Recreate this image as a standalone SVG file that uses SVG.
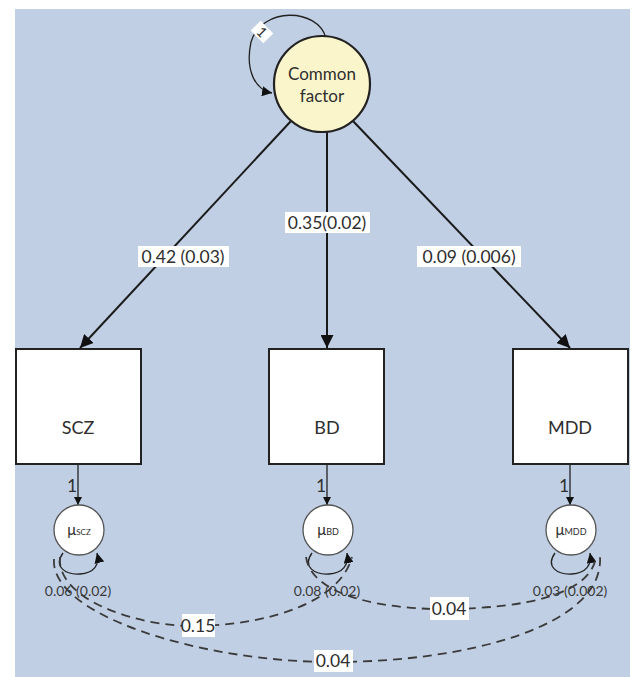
<svg xmlns="http://www.w3.org/2000/svg" width="633" height="677" viewBox="0 0 633 677">
<style>
text{font-family:Lato,"Liberation Sans",sans-serif;fill:#2e2e2e;text-anchor:middle}
.node{fill:#fff;stroke:#222;stroke-width:2}
.load{stroke:#1a1a1a;stroke-width:2;fill:none}
.thin{stroke:#222;stroke-width:1.3;fill:none}
.dash{stroke:#3a3a3a;stroke-width:1.8;fill:none;stroke-dasharray:9 6}
.lbl{font-size:17.5px}
.bg{fill:#fff}
.small{font-size:14px;fill:#3a3a3a}
</style>
<defs>
<marker id="ah" viewBox="0 0 10 10" refX="10" refY="5" markerWidth="8" markerHeight="8" orient="auto" markerUnits="userSpaceOnUse">
<path d="M0,0 L10,5 L0,10 z" fill="#111"/>
</marker>
<marker id="ahs" viewBox="0 0 10 10" refX="10" refY="5" markerWidth="10" markerHeight="10" orient="auto" markerUnits="userSpaceOnUse">
<path d="M0,0 L10,5 L0,10 z" fill="#111"/>
</marker>
<marker id="ahb" viewBox="0 0 10 10" refX="10" refY="5" markerWidth="13" markerHeight="13" orient="auto" markerUnits="userSpaceOnUse">
<path d="M0,0 L10,5 L0,10 z" fill="#111"/>
</marker>
</defs>
<rect x="0" y="0" width="633" height="677" fill="#fff"/>
<rect x="15" y="9" width="615" height="668" fill="#c0cfe4"/>

<g id="connectors">
  <!-- factor self loop -->
  <path class="thin" d="M326 38 C318 8 262 6 251 42 C245 70 255 90 272 93" marker-end="url(#ahs)"/>
  <g transform="translate(262,32) rotate(45)">
    <rect class="bg" x="-9" y="-7" width="18" height="14"/>
    <text x="0" y="5" style="font-size:14px">1</text>
  </g>
  <!-- loadings -->
  <line class="load" x1="291" y1="121" x2="80" y2="348" marker-end="url(#ahb)"/>
  <line class="load" x1="327" y1="131" x2="327" y2="348" marker-end="url(#ahb)"/>
  <line class="load" x1="352" y1="120" x2="570" y2="348" marker-end="url(#ahb)"/>
  <rect class="bg" x="138" y="246" width="91" height="21"/>
  <text class="lbl" x="183" y="263">0.42 (0.03)</text>
  <rect class="bg" x="285" y="212" width="85" height="21"/>
  <text class="lbl" x="327" y="229">0.35(0.02)</text>
  <rect class="bg" x="417" y="246" width="104" height="21"/>
  <text class="lbl" x="469" y="263">0.09 (0.006)</text>
  <!-- box to mu -->
  <line class="thin" x1="78" y1="464" x2="78" y2="505" marker-end="url(#ah)"/>
  <line class="thin" x1="327" y1="464" x2="327" y2="505" marker-end="url(#ah)"/>
  <line class="thin" x1="570" y1="464" x2="570" y2="505" marker-end="url(#ah)"/>
  <text class="lbl" x="72" y="492">1</text>
  <text class="lbl" x="321" y="492">1</text>
  <text class="lbl" x="564" y="492">1</text>
  <!-- mu self loops -->
  <path class="thin" d="M63 553 C53 567 66 575 80 574 C94 573 100 565 97 553" marker-end="url(#ahs)"/>
  <path class="thin" d="M312 553 C302 567 315 575 329 574 C343 573 349 565 347 553" marker-end="url(#ahs)"/>
  <path class="thin" d="M555 553 C545 567 558 575 572 574 C586 573 592 565 590 553" marker-end="url(#ahs)"/>
  <text class="small" x="78" y="596">0.06 (0.02)</text>
  <text class="small" x="327" y="596">0.08 (0.02)</text>
  <text class="small" x="570" y="596">0.03 (0.002)</text>
  <!-- covariances -->
  <path class="dash" d="M60 557 C56 600 140 628 200 626 C270 624 340 602 352 557"/>
  <path class="dash" d="M306 557 C312 598 390 610 450 609 C520 608 590 596 596 557"/>
  <path class="dash" d="M54 559 C50 615 200 662 333 662 C470 662 604 625 600 557"/>
  <rect class="bg" x="182" y="614" width="33" height="23"/>
  <text class="lbl" x="198" y="632">0.15</text>
  <rect class="bg" x="430" y="597" width="39" height="23"/>
  <text class="lbl" x="449" y="615">0.04</text>
  <rect class="bg" x="314" y="650" width="39" height="22"/>
  <text class="lbl" x="333" y="667">0.04</text>
</g>

<g id="common-factor">
  <circle cx="322" cy="84" r="48" fill="#fbf5cc" stroke="#222" stroke-width="2.2"/>
  <text x="322" y="80" style="font-size:17px">Common</text>
  <text x="322" y="102" style="font-size:17px">factor</text>
</g>
<g id="SCZ">
  <rect class="node" x="16" y="349" width="125" height="115"/>
  <text x="78" y="434" style="font-size:18px">SCZ</text>
</g>
<g id="BD">
  <rect class="node" x="269" y="349" width="115" height="115"/>
  <text x="327" y="434" style="font-size:18px">BD</text>
</g>
<g id="MDD">
  <rect class="node" x="513" y="349" width="115" height="115"/>
  <text x="570" y="434" style="font-size:18px">MDD</text>
</g>
<g id="mu-SCZ">
  <circle cx="79" cy="530" r="25" fill="#fff" stroke="#555" stroke-width="1.3"/>
  <text x="79" y="535" style="font-size:15px">μ<tspan style="font-size:8px">SCZ</tspan></text>
</g>
<g id="mu-BD">
  <circle cx="328" cy="530" r="25" fill="#fff" stroke="#555" stroke-width="1.3"/>
  <text x="328" y="535" style="font-size:15px">μ<tspan style="font-size:9px">BD</tspan></text>
</g>
<g id="mu-MDD">
  <circle cx="571" cy="530" r="25" fill="#fff" stroke="#555" stroke-width="1.3"/>
  <text x="571" y="535" style="font-size:15px">μ<tspan style="font-size:9px">MDD</tspan></text>
</g>
</svg>
